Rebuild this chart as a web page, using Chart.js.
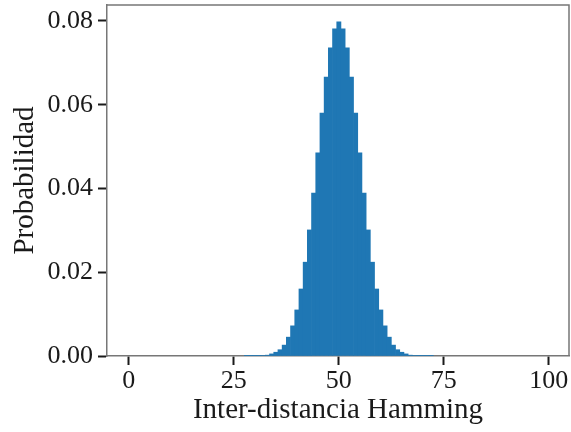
<!DOCTYPE html>
<html>
<head>
<meta charset="utf-8">
<script src="https://cdn.jsdelivr.net/npm/chart.js@4.4.0/dist/chart.umd.min.js"></script>
<style>
  html, body { margin: 0; padding: 0; background: #fff; }
  #wrap { width: 571px; height: 432px; }
</style>
</head>
<body>
<div id="wrap"><canvas id="chart" width="571" height="432"></canvas></div>
<script>
// Hamming inter-distance histogram
const distances = [28, 29, 30, 31, 32, 33, 34, 35, 36, 37, 38, 39, 40, 41, 42, 43, 44, 45, 46, 47, 48, 49,
  50, 51, 52, 53, 54, 55, 56, 57, 58, 59, 60, 61, 62, 63, 64, 65, 66, 67, 68, 69, 70, 71, 72];
const probabilities = [0.00001, 0.00001, 0.00002, 0.00005, 0.0001, 0.0002, 0.0005, 0.0009, 0.0015, 0.0026,
  0.0045, 0.0072, 0.0110, 0.0160, 0.0224, 0.0301, 0.0389, 0.0485, 0.0580, 0.0666, 0.0736, 0.0781,
  0.0798, 0.0781, 0.0736, 0.0666, 0.0580, 0.0485, 0.0389, 0.0301, 0.0224, 0.0160, 0.0110, 0.0072,
  0.0045, 0.0026, 0.0015, 0.0009, 0.0005, 0.0002, 0.0001, 0.00005, 0.00002, 0.00001, 0.00001];
const xTicks = [0, 25, 50, 75, 100];
const yTicks = [0, 0.02, 0.04, 0.06, 0.08];

const FONT = "'Liberation Serif', 'DejaVu Serif', serif";
const INK = '#1a1a1a';

// top + right spines (matplotlib box)
const frame = {
  id: 'frame',
  afterDraw(chart) {
    const { ctx, chartArea: a } = chart;
    ctx.save();
    ctx.strokeStyle = '#777';
    ctx.lineWidth = 1.5;
    ctx.beginPath();
    ctx.moveTo(a.left, a.top);
    ctx.lineTo(a.right, a.top);
    ctx.lineTo(a.right, a.bottom);
    ctx.stroke();
    ctx.restore();
  }
};

new Chart(document.getElementById('chart'), {
  type: 'bar',
  data: {
    datasets: [{
      data: distances.map((d, i) => ({ x: d, y: probabilities[i] })),
      backgroundColor: '#1f77b4',
      borderWidth: 0,
      barPercentage: 1,
      categoryPercentage: 1
    }]
  },
  options: {
    responsive: false,
    animation: false,
    layout: { padding: { top: 5, right: 2, left: 0, bottom: 0 } },
    plugins: { legend: { display: false }, tooltip: { enabled: false } },
    scales: {
      x: {
        type: 'linear',
        offset: false,
        min: -5.2,
        max: 104.8,
        afterBuildTicks: s => { s.ticks = xTicks.map(v => ({ value: v })); },
        afterFit: s => { s.height = 76; s.paddingLeft = 0; s.paddingRight = 0; },
        ticks: {
          font: { family: FONT, size: 26 },
          color: INK,
          padding: 1,
          maxRotation: 0,
          autoSkip: false,
          callback: v => String(v)
        },
        grid: { offset: false, drawOnChartArea: false, tickLength: 9, tickWidth: 2, tickColor: INK },
        border: { display: true, color: '#777', width: 1.5 },
        title: {
          display: true,
          text: 'Inter-distancia Hamming',
          font: { family: FONT, size: 29 },
          color: INK,
          padding: { top: 0, bottom: 4 }
        }
      },
      y: {
        min: 0,
        max: 0.0838,
        afterBuildTicks: s => { s.ticks = yTicks.map(v => ({ value: v })); },
        afterFit: s => { s.width = 107; s.paddingTop = 0; s.paddingBottom = 0; },
        ticks: {
          font: { family: FONT, size: 26 },
          color: INK,
          padding: 5,
          callback: v => v.toFixed(2)
        },
        grid: { drawOnChartArea: false, tickLength: 9, tickWidth: 2, tickColor: INK },
        border: { display: true, color: '#777', width: 1.5 },
        title: {
          display: true,
          text: 'Probabilidad',
          font: { family: FONT, size: 29 },
          color: INK,
          padding: { top: 8, bottom: 0 }
        }
      }
    }
  },
  plugins: [frame]
});
</script>
</body>
</html>
